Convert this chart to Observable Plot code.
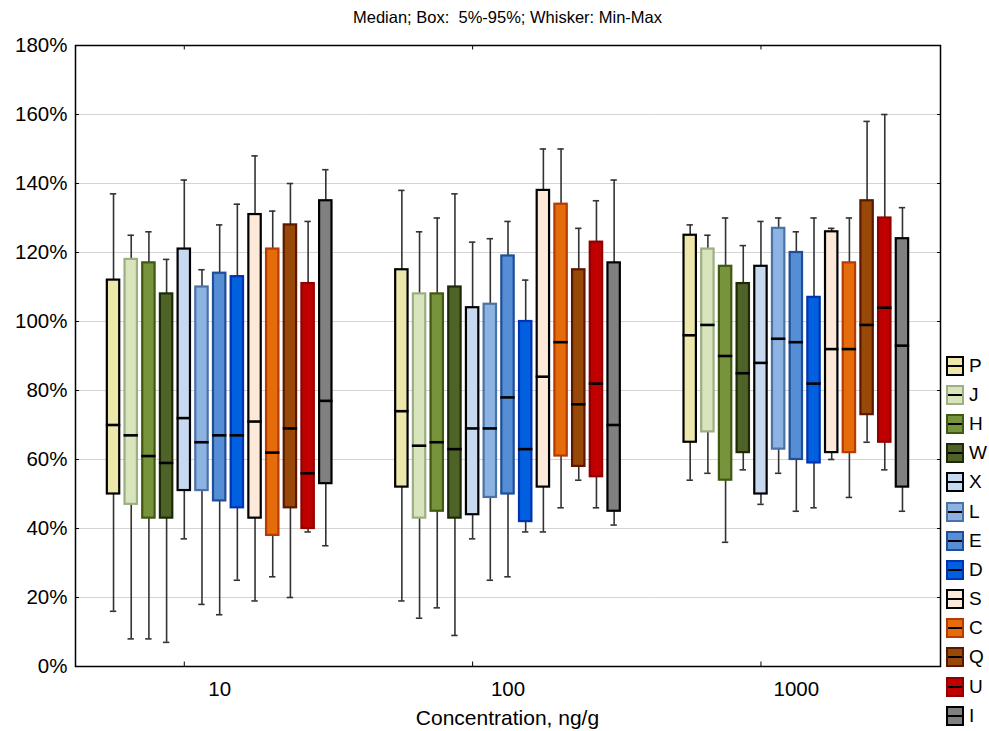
<!DOCTYPE html>
<html><head><meta charset="utf-8">
<script src="https://cdn.jsdelivr.net/npm/d3@7"></script>
<script src="https://cdn.jsdelivr.net/npm/@observablehq/plot@0.6"></script>
<style>
body{margin:0;background:#fff;font-family:"Liberation Sans",Arial,sans-serif;color:#000;}
#wrap{position:relative;width:989px;height:731px;overflow:hidden;background:#fff;}
#title{position:absolute;left:75px;width:865px;top:7px;line-height:20px;text-align:center;font-size:16.5px;white-space:pre;}
#chart{position:absolute;left:0;top:35px;}
#xlabel{position:absolute;left:75px;width:865px;top:706px;line-height:24px;text-align:center;font-size:21px;}
#legend{position:absolute;left:946px;top:351px;}
.item{display:flex;align-items:center;height:29.2px;}
.sw{width:14px;height:16px;border:2px solid;position:relative;}
.sw::after{content:"";position:absolute;left:0;right:0;top:7px;height:2px;background:#000;}
.lab{margin-left:5px;font-size:19px;line-height:20px;}
</style></head>
<body>
<div id="wrap">
  <div id="title">Median; Box:  5%-95%; Whisker: Min-Max</div>
  <div id="chart"></div>
  <div id="xlabel">Concentration, ng/g</div>
  <div id="legend"></div>
</div>
<script>
const series = ["P","J","H","W","X","L","E","D","S","C","Q","U","I"];
const groups = ["10","100","1000"];
const yTicks = [0,20,40,60,80,100,120,140,160,180];

const fills   = ["#EDE7AB","#D8E4BC","#77933C","#4F6228","#C6D9F1","#8DB3E2","#558ED5","#0060E0","#FDE9D9","#E46C0A","#984807","#C00000","#808080"];
const strokes = ["#000000","#9CAE84","#3F5A10","#1C2A08","#000000","#4A72A8","#1F4E99","#0033B0","#000000","#B83A00","#5A1800","#900000","#000000"];

// group 10
const min10 = [16,8,8,7,37,18,15,25,19,26,20,39,35];
const lo10  = [50,47,43,43,51,51,48,46,43,38,46,40,53];
const med10 = [70,67,61,59,72,65,67,67,71,62,69,56,77];
const hi10  = [112,118,117,108,121,110,114,113,131,121,128,111,135];
const max10 = [137,125,126,118,141,115,128,134,148,132,140,129,144];
// group 100
const min100 = [19,14,17,9,37,25,26,39,39,46,54,46,41];
const lo100  = [52,43,45,43,44,49,50,42,52,61,58,55,45];
const med100 = [74,64,65,63,69,69,78,63,84,94,76,82,70];
const hi100  = [115,108,108,110,104,105,119,100,138,134,115,123,117];
const max100 = [138,126,130,137,123,124,129,112,150,150,127,135,141];
// group 1000
const min1000 = [54,56,36,57,47,56,45,46,60,49,65,57,45];
const lo1000  = [65,68,54,62,50,63,60,59,62,62,73,65,52];
const med1000 = [96,99,90,85,88,95,94,82,92,92,99,104,93];
const hi1000  = [125,121,116,111,116,127,120,107,126,117,135,130,124];
const max1000 = [128,125,130,122,129,130,126,130,127,130,158,160,133];

const table = {
  "10":   [min10, lo10, med10, hi10, max10],
  "100":  [min100, lo100, med100, hi100, max100],
  "1000": [min1000, lo1000, med1000, hi1000, max1000]
};
const rows = [];
for (const g of groups) {
  const [mn, lo, md, hi, mx] = table[g];
  series.forEach((s, i) => rows.push({group: g, series: s, min: mn[i], lo: lo[i], med: md[i], hi: hi[i], max: mx[i], fill: fills[i], stroke: strokes[i]}));
}

function build(useNew) {
  const marks = [];
  if (useNew) {
    marks.push(Plot.gridY(yTicks, {stroke: "#d4d4d4", strokeOpacity: 1}));
  }
  marks.push(
    Plot.ruleX(rows, {x: "series", y1: "min", y2: "max", stroke: "#333", strokeWidth: 1.6}),
    Plot.tickY(rows, {x: "series", y: "min", stroke: "#333", strokeWidth: 1.6, insetLeft: 3, insetRight: 3}),
    Plot.tickY(rows, {x: "series", y: "max", stroke: "#333", strokeWidth: 1.6, insetLeft: 3, insetRight: 3}),
    Plot.barY(rows, {x: "series", y1: "lo", y2: "hi", fill: "fill", stroke: "stroke", strokeWidth: 2.2}),
    Plot.tickY(rows, {x: "series", y: "med", stroke: "#000", strokeWidth: 2.6, insetLeft: -1, insetRight: -1}),
    Plot.ruleX(["X"], {x: d => d, y1: 0, y2: 1.3, stroke: "#000"}),
    Plot.ruleX(["X"], {x: d => d, y1: 178.7, y2: 180, stroke: "#000"})
  );
  if (useNew) {
    marks.push(
      Plot.axisY(yTicks, {anchor: "left", tickSize: -4, tickPadding: 12, tickFormat: d => d + "%", label: null, fontSize: 20.5}),
      Plot.axisY(yTicks, {anchor: "right", tickSize: -4, tickFormat: () => "", label: null}),
      Plot.axisFx({anchor: "bottom", tickSize: 0, tickPadding: 15, label: null, fontSize: 20.5}),
      Plot.frame({facet: "super", stroke: "#000", strokeWidth: 1.5})
    );
  } else {
    marks.push(Plot.ruleY([0, 180], {stroke: "#000", strokeWidth: 1.5}));
  }
  return Plot.plot({
    width: 989, height: 696,
    marginTop: 10, marginBottom: 65, marginLeft: 75, marginRight: 49,
    style: {fontFamily: "'Liberation Sans', Arial, sans-serif", fontSize: "20px", background: "white", color: "black", overflow: "visible"},
    facet: {data: rows, x: "group"},
    fx: {domain: groups, paddingInner: 0, paddingOuter: 0, round: false, label: null, ...(useNew ? {} : {axis: "bottom", tickSize: 0, tickPadding: 15})},
    x: {domain: series, paddingInner: 0.3, paddingOuter: 1.8, round: false, axis: null},
    y: {domain: [0, 180], ...(useNew ? {axis: null} : {ticks: yTicks, tickFormat: d => d + "%", grid: true, tickSize: -4, tickPadding: 8, label: null, line: true})},
    color: {type: "identity"},
    marks
  });
}

let chart;
try { chart = build(typeof Plot.axisY === "function"); }
catch (e) { console.error(e); chart = build(false); }
document.getElementById("chart").appendChild(chart);

// legend
const leg = document.getElementById("legend");
series.forEach((s, i) => {
  const it = document.createElement("div"); it.className = "item";
  const sw = document.createElement("div"); sw.className = "sw";
  sw.style.background = fills[i]; sw.style.borderColor = strokes[i];
  const lb = document.createElement("span"); lb.className = "lab"; lb.textContent = s;
  it.appendChild(sw); it.appendChild(lb); leg.appendChild(it);
});
</script>
</body></html>
